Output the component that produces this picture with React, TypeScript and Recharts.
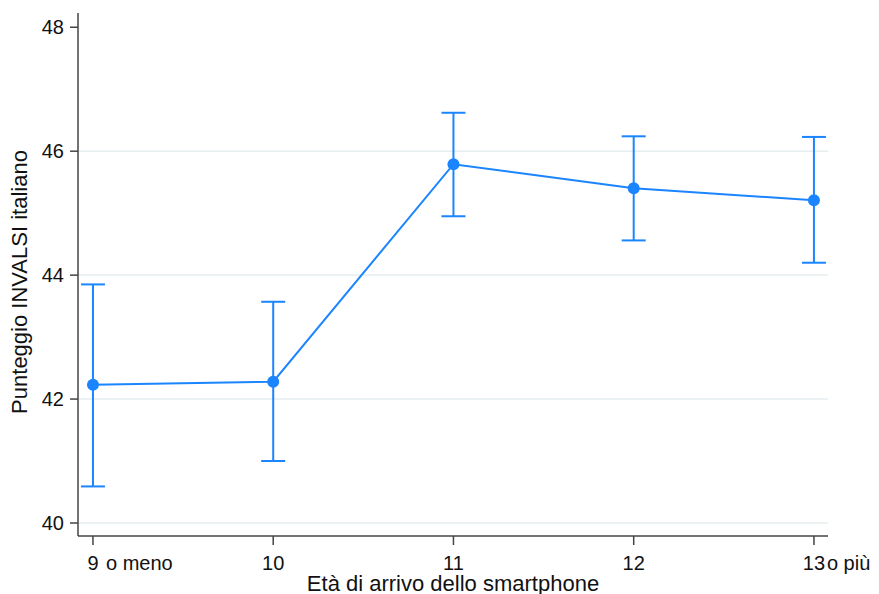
import { LineChart, Line, XAxis, YAxis, ErrorBar, ReferenceLine, Label } from "recharts";

const ages = [9, 10, 11, 12, 13];
const ageSuffix = ["o meno", "", "", "", "o più"];
const meanScore = [42.23, 42.28, 45.79, 45.4, 45.21];
const lowerCI = [40.59, 41.0, 44.95, 44.56, 44.2];
const upperCI = [43.85, 43.57, 46.62, 46.24, 46.23];
const yTicks = [40, 42, 44, 46, 48];
const gridLines = [40, 42, 44, 46];

const blue = "#1a85ff";
const axisColor = "#444";
const font = "'Liberation Sans', Arial, sans-serif";

const data = ages.map((a, i) => ({
  age: a,
  score: meanScore[i],
  err: [meanScore[i] - lowerCI[i], upperCI[i] - meanScore[i]],
}));

function AgeTick(props: any) {
  const { x, y, payload } = props;
  const i = ages.indexOf(payload.value);
  return (
    <g>
      <text x={x} y={y} dy="0.71em" textAnchor="middle" fontSize={20} fill="#111" fontFamily={font}>
        {payload.value}
      </text>
      {ageSuffix[i] && (
        <text x={x + 13} y={y} dy="0.71em" textAnchor="start" fontSize={20} fill="#111" fontFamily={font}>
          {ageSuffix[i]}
        </text>
      )}
    </g>
  );
}

export default function App() {
  return (
    <div style={{ position: "absolute", left: 0, top: 0, background: "#fff" }}>
      <LineChart width={879} height={594} data={data} margin={{ top: 13, right: 51, left: 0, bottom: 0 }}>
        {gridLines.map((g) => (
          <ReferenceLine key={g} y={g} stroke="#e6eef0" strokeWidth={1.5} />
        ))}
        <XAxis
          dataKey="age"
          type="number"
          domain={[8.917, 13.078]}
          ticks={ages}
          height={58}
          tickSize={9}
          tickMargin={11}
          stroke={axisColor}
          strokeWidth={1.5}
          tick={<AgeTick />}
        >
          <Label
            content={() => (
              <text x={453} y={591} textAnchor="middle" fontSize={22} fill="#111" fontFamily={font}>
                Età di arrivo dello smartphone
              </text>
            )}
          />
        </XAxis>
        <YAxis
          type="number"
          domain={[39.79, 48.23]}
          ticks={yTicks}
          width={78}
          tickSize={8}
          tickMargin={6}
          stroke={axisColor}
          strokeWidth={1.5}
          tick={{ fontSize: 20, fill: "#111", fontFamily: font }}
          allowDataOverflow
        >
          <Label
            content={() => (
              <text
                x={27}
                y={282}
                transform="rotate(-90 27 282)"
                textAnchor="middle"
                fontSize={22}
                fill="#111"
                fontFamily={font}
              >
                Punteggio INVALSI italiano
              </text>
            )}
          />
        </YAxis>
        <Line
          dataKey="score"
          stroke={blue}
          strokeWidth={2}
          dot={{ r: 6, fill: blue, stroke: blue, strokeWidth: 0 }}
          activeDot={false}
          isAnimationActive={false}
        >
          <ErrorBar dataKey="err" width={12} stroke={blue} strokeWidth={2} isAnimationActive={false} />
        </Line>
      </LineChart>
    </div>
  );
}
